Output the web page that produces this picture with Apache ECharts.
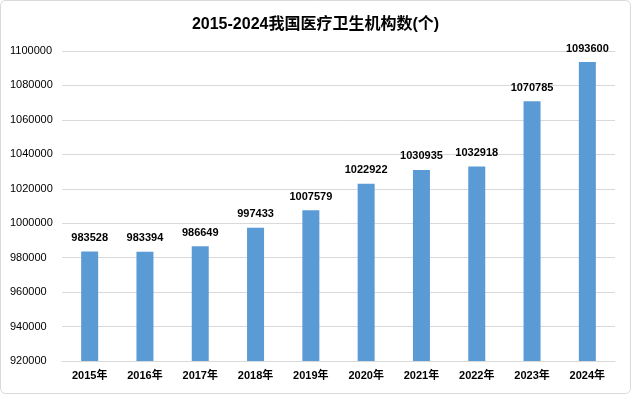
<!DOCTYPE html>
<html><head><meta charset="utf-8">
<script src="https://cdn.jsdelivr.net/npm/echarts@6/dist/echarts.min.js"></script>
<style>html,body{margin:0;padding:0;background:#fff}#c{width:631px;height:394px}</style>
</head><body><div id="c"></div>
<script>
const categories = ['2015年','2016年','2017年','2018年','2019年','2020年','2021年','2022年','2023年','2024年'];
const values = [983528, 983394, 986649, 997433, 1007579, 1022922, 1030935, 1032918, 1070785, 1093600];
const titleText = '2015-2024我国医疗卫生机构数(个)';
const yMin = 920000, yMax = 1100000, yStep = 20000;

const font = '"Liberation Sans", "Noto Sans CJK SC", sans-serif';
const chart = echarts.init(document.getElementById('c'), null, {renderer:'canvas'});
chart.setOption({
  animation: false,
  backgroundColor: '#fff',
  title: {
    text: titleText, left: 'center', top: 12,
    textStyle: {fontFamily: font, fontSize: 16, fontWeight: 'bold', color: '#000'}
  },
  graphic: [{
    type: 'rect', silent: true, z: -1,
    shape: {x: 0.5, y: 0.5, width: 630, height: 393, r: 5},
    style: {fill: 'none', stroke: '#d9d9d9', lineWidth: 1}
  }],
  grid: {left: 62, right: 16, top: 51, bottom: 33, containLabel: false},
  xAxis: {
    type: 'category', data: categories,
    axisLine: {lineStyle: {color: '#d9d9d9'}},
    axisTick: {show: false},
    axisLabel: {fontFamily: font, fontSize: 11, fontWeight: 'bold', color: '#000', margin: 9}
  },
  yAxis: {
    type: 'value', min: yMin, max: yMax, interval: yStep,
    axisLine: {show: false}, axisTick: {show: false},
    splitLine: {lineStyle: {color: '#d9d9d9'}},
    axisLabel: {fontFamily: font, fontSize: 11, color: '#000', align: 'left', margin: 52,
      formatter: v => String(v)}
  },
  series: [{
    type: 'bar', data: values, barWidth: 17,
    itemStyle: {color: '#5b9bd5'},
    label: {show: true, position: 'top', distance: 8, fontFamily: font, fontSize: 11, fontWeight: 'bold', color: '#000'}
  }]
});
</script></body></html>
